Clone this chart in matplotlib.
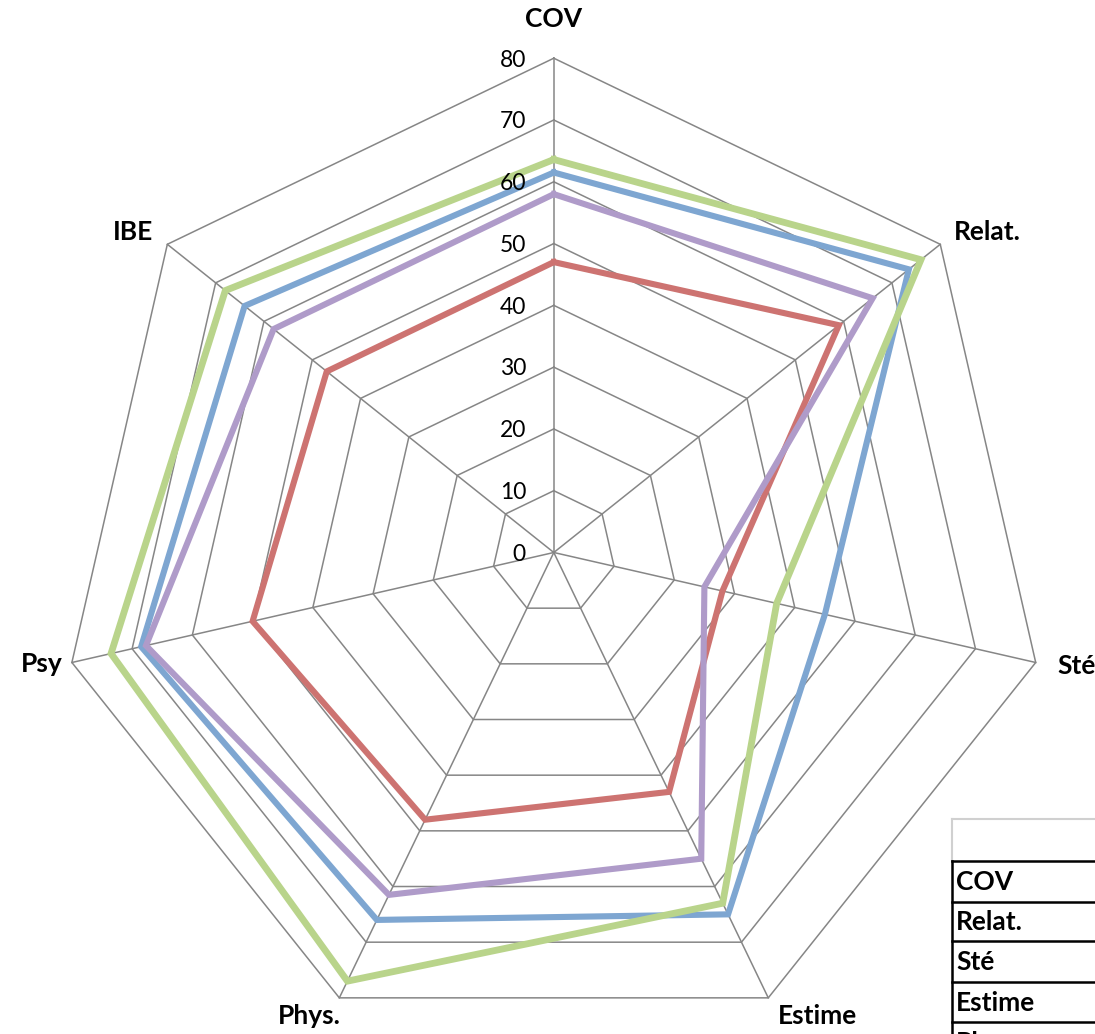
import numpy as np
import matplotlib
matplotlib.use("Agg")
import matplotlib.pyplot as plt
from matplotlib.lines import Line2D

plt.rcParams["font.family"] = ["Lato", "DejaVu Sans"]

# -----------------------------
#  Data
# -----------------------------
categories = ["COV", "Relat.", "Sté", "Estime", "Phys.", "Psy", "IBE"]

serie_bleue = [61.5, 73.5, 45, 65, 66, 68.5, 64]
serie_rouge = [47, 59, 28, 43, 48, 50, 47]
serie_verte = [63.6, 76, 37, 63, 77, 73.5, 68]
serie_violette = [58, 66, 25, 55, 61.5, 67.7, 58]

ticks = [0, 10, 20, 30, 40, 50, 60, 70, 80]
table_rows = ["COV", "Relat.", "Sté", "Estime", "Phys."]

series = [
    (serie_bleue, "#7EA6D1", 4.4),
    (serie_rouge, "#CD7371", 4.4),
    (serie_verte, "#B9D48B", 4.9),
    (serie_violette, "#AF9BC9", 4.4),
]

# -----------------------------
#  Geometry
# -----------------------------
W, H = 1095, 1034
cx, cy = 553.8, 552.5          # centre in pixels (from top)
px = 494.3 / 80                # pixels per unit

n = len(categories)
theta = np.pi / 2 - np.arange(n) * 2 * np.pi / n


def to_xy(values):
    v = np.asarray(values, dtype=float)
    x = v * np.cos(theta)
    y = v * np.sin(theta)
    return np.append(x, x[0]), np.append(y, y[0])


fig = plt.figure(figsize=(W / 100, H / 100), dpi=100)
ax = fig.add_axes([0, 0, 1, 1])
ax.set_xlim(-cx / px, (W - cx) / px)
ax.set_ylim(-(H - cy) / px, cy / px)
ax.axis("off")

grid_col = "#868686"
for lv in ticks[1:]:
    gx, gy = to_xy([lv] * n)
    ax.plot(gx, gy, color=grid_col, lw=1.1, zorder=1)
for t in theta:
    ax.plot([0, 80 * np.cos(t)], [0, 80 * np.sin(t)], color=grid_col, lw=1.1, zorder=1)

for vals, col, lw in series:
    sx, sy = to_xy(vals)
    ax.plot(sx, sy, color=col, lw=lw, solid_joinstyle="miter", zorder=3)

# tick labels on the COV axis
for lv in ticks:
    ax.text(-4.5, lv - 0.3, str(lv), ha="right", va="center", fontsize=16.5, zorder=4)

# category labels (offsets in pixels from the outer vertex)
offsets = [(0, 39, "center"), (14, 12, "left"), (22, -4, "left"), (10, -18, "left"),
           (1, -18, "right"), (-9, -2, "right"), (-14, 12, "right")]
for name, t, (dx, dy, ha) in zip(categories, theta, offsets):
    ax.text(80 * np.cos(t) + dx / px, 80 * np.sin(t) + dy / px, name,
            ha=ha, va="center", fontsize=19, fontweight="bold")

# -----------------------------
#  Data table (bottom right, clipped like the original)
# -----------------------------
def fx(x):
    return x / W


def fy(y):
    return 1 - y / H


left = 951.5
fig.add_artist(Line2D([fx(left), 1], [fy(819), fy(819)], color="#D0D0D0", lw=1.5))
fig.add_artist(Line2D([fx(left), fx(left)], [fy(819), fy(861)], color="#D0D0D0", lw=1.5))
row_y = [861, 902, 941, 982, 1022, 1062]
for y in row_y[:-1]:
    fig.add_artist(Line2D([fx(left), 1], [fy(y), fy(y)], color="black", lw=1.8))
fig.add_artist(Line2D([fx(left), fx(left)], [fy(861), 0], color="black", lw=1.8))
for name, y0, y1 in zip(table_rows, row_y[:-1], row_y[1:]):
    fig.text(fx(956), fy((y0 + y1) / 2 + 1), name, ha="left", va="center",
             fontsize=19, fontweight="bold")

fig.savefig("out.png", dpi=100)
